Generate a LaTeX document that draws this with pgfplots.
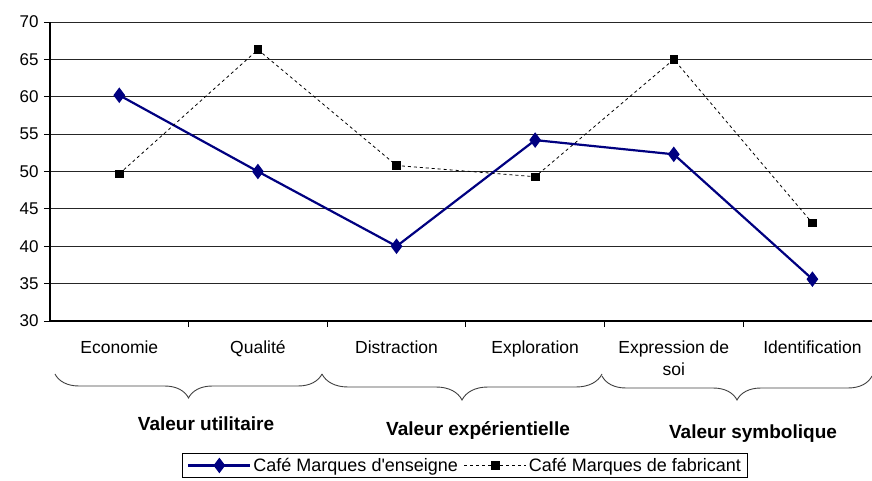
\documentclass[border=0pt]{standalone}
\usepackage{fontspec}
\setmainfont{Liberation Sans}
\usepackage{pgfplots}
\pgfplotsset{compat=1.18}
\usetikzlibrary{decorations.pathreplacing}
\definecolor{navy}{RGB}{0,0,128}
\begin{document}
\begin{tikzpicture}[x=1pt,y=1pt]
\begin{axis}[
  scale only axis, width=822pt, height=299pt,
  xmin=-0.5, xmax=5.43, ymin=30, ymax=70,
  axis lines=left, axis line style={-, line width=1.1pt},
  ytick={30,35,...,70},
  xtick={0,1,2,3,4,5},
  xticklabels={Economie,Qualité,Distraction,Exploration,{Expression de\\soi},Identification},
  xticklabel style={align=center, yshift=-10pt, font=\fontsize{17.5}{22}\selectfont},
  yticklabel style={font=\fontsize{17}{20}\selectfont, xshift=-2pt},
  major x tick style={draw=none},
  minor x tick num=1,
  minor tick length=6pt,
  major tick length=6pt,
  tick align=outside,
  tick style={black, line width=0.9pt},
  ymajorgrids, grid style={black!85, line width=0.9pt},
  /pgf/number format/assume math mode=true,
  legend columns=2,
  legend style={at={(0.505,-0.483)}, anchor=center, draw=black, line width=0.6pt,
    font=\fontsize{18}{20}\selectfont, inner xsep=4.5pt, inner ysep=3pt,
    /tikz/every even column/.append style={column sep=4pt},
    /tikz/every odd column/.append style={column sep=0pt}},
  legend image code/.code={\draw[mark repeat=2,mark phase=2] plot coordinates {(0pt,0pt) (31pt,0pt) (62pt,0pt)};},
  clip=false,
]
\addplot[navy, line width=2.2pt, mark=diamond*, mark size=6pt, mark options={solid, fill=navy}]
  coordinates {(0,60.2) (1,50.0) (2,40.0) (3,54.2) (4,52.3) (5,35.6)};
\addlegendentry{Café Marques d\textquotesingle enseigne}
\addplot[black, line width=0.8pt, dash pattern=on 3pt off 3pt, mark=square*, mark size=3.8pt, mark options={solid}]
  coordinates {(0,49.7) (1,66.3) (2,50.8) (3,49.3) (4,65.0) (5,43.1)};
\addlegendentry{Café Marques de fabricant}
\end{axis}
\begin{scope}[line width=0.9pt, black!75]
\draw[decorate, decoration={brace, mirror, amplitude=24pt, aspect=0.5}] (5,-53) -- (272,-53);
\draw[decorate, decoration={brace, mirror, amplitude=26pt, aspect=0.5}] (272,-53) -- (552,-53);
\draw[decorate, decoration={brace, mirror, amplitude=24pt, aspect=0.5}] (552,-55) -- (822,-55);
\end{scope}
\node[font=\bfseries\fontsize{19}{22}\selectfont] at (156,-103) {Valeur utilitaire};
\node[font=\bfseries\fontsize{19}{22}\selectfont] at (428,-110) {Valeur expérientielle};
\node[font=\bfseries\fontsize{19}{22}\selectfont] at (703,-113) {Valeur symbolique};
\pgfresetboundingbox
\path (-50,-160) rectangle (822,321);
\end{tikzpicture}
\end{document}
